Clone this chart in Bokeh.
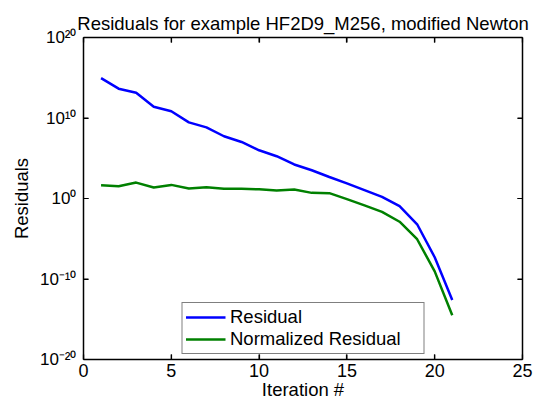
import math
from bokeh.plotting import figure
from bokeh.models import (Range1d, LinearAxis, LogAxis, FixedTicker,
                          CustomJSTickFormatter, Legend, LegendItem)
from bokeh.embed import file_html
from bokeh.resources import INLINE

# ---- data ----
iterations = [1, 2, 3, 4, 5, 6, 7, 8, 9, 10, 11, 12, 13, 14, 15, 16, 17, 18, 19, 20, 21]
residual = [9.1e14, 4.4e13, 1.4e13, 2.5e11, 6.8e10, 2.9e9, 6.9e8, 5.4e7, 1.05e7,
            9.8e5, 1.8e5, 1.7e4, 3.2e3, 4.7e2, 75.0, 11.0, 1.6, 0.11, 6.3e-4,
            5.0e-8, 2.5e-13]
normalized_residual = [45.0, 34.0, 95.0, 23.0, 49.0, 17.0, 25.0, 16.0, 16.0, 14.0,
                       9.8, 13.0, 5.0, 4.6, 0.83, 0.14, 0.022, 1.3e-3, 8.7e-6,
                       8.9e-10, 3.2e-15]
series_labels = ["Residual", "Normalized Residual"]
x_ticks = [0, 5, 10, 15, 20, 25]
y_tick_values = [1e-20, 1e-10, 1e0, 1e10, 1e20]
y_tick_labels = ["10\u207b\u00b2\u2070", "10\u207b\u00b9\u2070", "10\u2070",
                 "10\u00b9\u2070", "10\u00b2\u2070"]
title_text = "Residuals for example HF2D9_M256, modified Newton"
x_label = "Iteration #"
y_label = "Residuals"

X_MIN, X_MAX = 0, 25
Y_MIN, Y_MAX = 1e-20, 1e20

FONT = "Liberation Sans"
XTICK_FS = "18px"
YTICK_FS = "17px"
LABEL_FS = "18.5px"

p = figure(width=539, height=403,
           x_range=Range1d(X_MIN, X_MAX), y_range=Range1d(Y_MIN, Y_MAX),
           y_axis_type="log", output_backend="svg", toolbar_location=None,
           min_border_left=83, min_border_right=17, min_border_top=37,
           min_border_bottom=44, title=title_text)

p.title.text_font = FONT
p.title.text_font_size = LABEL_FS
p.title.text_font_style = "normal"
p.title.align = "center"
p.title.standoff = 7
p.title.text_color = "black"

p.grid.visible = False
p.outline_line_color = None
p.background_fill_color = "white"
p.border_fill_color = "white"

ylab_formatter = CustomJSTickFormatter(
    args=dict(vals=y_tick_values, labs=y_tick_labels),
    code="""
    for (let i = 0; i < vals.length; i++) {
        if (Math.abs(Math.log10(vals[i]) - Math.log10(tick)) < 1e-6) return labs[i];
    }
    return "";
    """)

def style_axis(ax, tick_fs):
    ax.axis_line_color = "black"
    ax.axis_line_width = 1.5
    ax.major_tick_in = 5
    ax.major_tick_out = 0
    ax.minor_tick_in = 0
    ax.minor_tick_out = 0
    ax.major_tick_line_color = "black"
    ax.major_tick_line_width = 1.2
    ax.minor_tick_line_color = None
    ax.major_label_text_font = FONT
    ax.major_label_text_font_size = tick_fs
    ax.major_label_text_color = "black"
    ax.axis_label_text_font = FONT
    ax.axis_label_text_font_size = LABEL_FS
    ax.axis_label_text_font_style = "normal"
    ax.axis_label_text_color = "black"

xa = p.xaxis[0]
style_axis(xa, XTICK_FS)
xa.ticker = FixedTicker(ticks=x_ticks)
xa.axis_label = x_label
xa.major_label_standoff = 4
xa.axis_label_standoff = -1

ya = p.yaxis[0]
style_axis(ya, YTICK_FS)
ya.ticker = FixedTicker(ticks=y_tick_values)
ya.formatter = ylab_formatter
ya.axis_label = y_label
ya.major_label_standoff = 7
ya.axis_label_standoff = 5

blank = CustomJSTickFormatter(code="return '';")
top = LinearAxis(ticker=FixedTicker(ticks=x_ticks), formatter=blank)
style_axis(top, "1px")
top.major_label_standoff = 0
p.add_layout(top, "above")

right = LogAxis(ticker=FixedTicker(ticks=y_tick_values), formatter=blank)
style_axis(right, "1px")
right.major_label_standoff = 0
p.add_layout(right, "right")

# inward tick marks (MATLAB style) on all four sides
TICK_LEN = 5
p.ray(x=x_ticks, y=[Y_MIN] * len(x_ticks), length=TICK_LEN, length_units="screen",
      angle=math.pi / 2, line_color="black", line_width=1.2)
p.ray(x=x_ticks, y=[Y_MAX] * len(x_ticks), length=TICK_LEN, length_units="screen",
      angle=-math.pi / 2, line_color="black", line_width=1.2)
p.ray(x=[X_MIN] * len(y_tick_values), y=y_tick_values, length=TICK_LEN,
      length_units="screen", angle=0, line_color="black", line_width=1.2)
p.ray(x=[X_MAX] * len(y_tick_values), y=y_tick_values, length=TICK_LEN,
      length_units="screen", angle=math.pi, line_color="black", line_width=1.2)

r1 = p.line(iterations, residual, line_color="#0000ff", line_width=2.5)
r2 = p.line(iterations, normalized_residual, line_color="#008000", line_width=2.5)

legend = Legend(items=[LegendItem(label=series_labels[0], renderers=[r1]),
                       LegendItem(label=series_labels[1], renderers=[r2])],
                location="bottom_center")
legend.border_line_color = "black"
legend.border_line_width = 1.5
legend.background_fill_color = "white"
legend.background_fill_alpha = 1
legend.padding = 3
legend.spacing = 0
legend.margin = 5
legend.glyph_width = 40
legend.glyph_height = 22
legend.label_height = 22
legend.label_width = 190
legend.label_standoff = 5
legend.label_text_font = FONT
legend.label_text_font_size = LABEL_FS
legend.label_text_color = "black"
p.add_layout(legend)

open("out.html", "w").write(file_html(p, INLINE))
